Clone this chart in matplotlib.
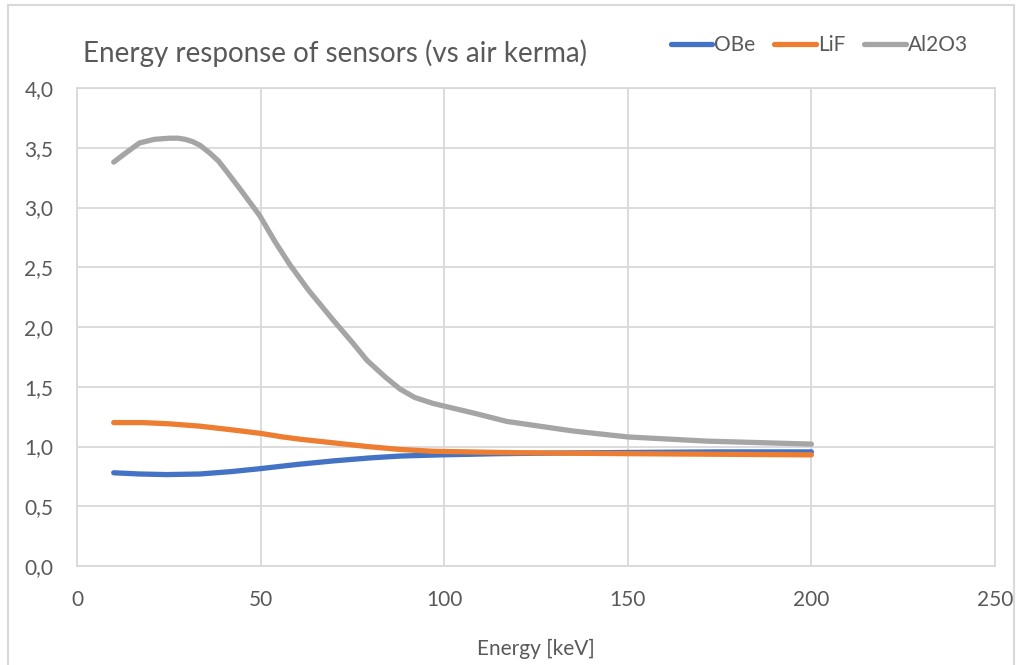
import matplotlib
matplotlib.use("Agg")
import matplotlib.pyplot as plt
from matplotlib.patches import Rectangle

plt.rcParams['font.family'] = ['Lato', 'DejaVu Sans']

# values
obe_x = [10, 17, 24.5, 33.5, 42, 50, 60, 70, 80, 88, 99, 115, 130, 150, 175, 200]
obe_y = [0.78, 0.77, 0.765, 0.77, 0.79, 0.815, 0.85, 0.88, 0.905, 0.92, 0.93, 0.94, 0.945, 0.95, 0.955, 0.955]

lif_x = [10, 18, 25, 33.5, 42, 50, 56, 61, 70, 79, 88, 97, 115, 130, 150, 175, 200]
lif_y = [1.20, 1.20, 1.19, 1.17, 1.14, 1.11, 1.08, 1.06, 1.03, 1.00, 0.975, 0.96, 0.95, 0.945, 0.94, 0.935, 0.93]

al_x = [10, 13, 17, 21, 23, 25.3, 27.5, 29.5, 31.6, 33.5, 36, 38.5, 40.8, 45, 49.8, 54, 58, 63, 69.7, 75, 79,
        84, 88, 92, 97, 108, 117, 135, 150, 171.5, 200]
al_y = [3.38, 3.45, 3.54, 3.57, 3.575, 3.58, 3.58, 3.57, 3.55, 3.52, 3.46, 3.39, 3.30, 3.13, 2.93, 2.71, 2.52,
        2.31, 2.06, 1.87, 1.72, 1.58, 1.48, 1.41, 1.36, 1.28, 1.21, 1.13, 1.08, 1.045, 1.02]

xticks = [0, 50, 100, 150, 200, 250]
yticks = [0.0, 0.5, 1.0, 1.5, 2.0, 2.5, 3.0, 3.5, 4.0]

fig = plt.figure(figsize=(10.23, 6.65), dpi=100)
ax = fig.add_axes([77 / 1023, 1 - 566 / 665, (995 - 77) / 1023, (566 - 88) / 665])

# outer frame of the chart
fig.patches.append(Rectangle((8 / 1023, -0.01), (1014 - 8) / 1023, 1 - 5 / 665 + 0.01,
                             transform=fig.transFigure, fill=False, edgecolor='#D9D9D9', lw=1.5))

ax.plot(obe_x, obe_y, color='#4472C4', lw=3.8, solid_capstyle='round', label='OBe')
ax.plot(lif_x, lif_y, color='#ED7D31', lw=3.8, solid_capstyle='round', label='LiF')
ax.plot(al_x, al_y, color='#A5A5A5', lw=3.8, solid_capstyle='round', label='Al2O3')

ax.set_xlim(0, 250)
ax.set_ylim(0, 4)
ax.set_xticks(xticks)
ax.set_yticks(yticks)
ax.set_yticklabels([f"{v:.1f}".replace('.', ',') for v in yticks])
ax.grid(True, color='#D9D9D9', lw=1.3)
ax.set_axisbelow(True)
for s in ax.spines.values():
    s.set_color('#D9D9D9')
    s.set_linewidth(1.3)
ax.tick_params(length=0, labelsize=15, labelcolor='#595959')
ax.tick_params(axis='x', pad=17)
ax.tick_params(axis='y', pad=17)
ax.set_xlabel('Energy [keV]', fontsize=15, color='#595959', labelpad=21)

fig.text(83 / 1023, 1 - 53 / 665, 'Energy response of sensors (vs air kerma)', fontsize=20,
         color='#595959', va='center', ha='left')

leg = ax.legend(loc='center right', bbox_to_anchor=(968 / 1023, 1 - 45 / 665), bbox_transform=fig.transFigure,
                ncol=3, frameon=False, fontsize=15, handlelength=2.0, handletextpad=0.1,
                columnspacing=0.9, borderpad=0, borderaxespad=0)
for t in leg.get_texts():
    t.set_color('#595959')

fig.savefig('out.png', dpi=100)
